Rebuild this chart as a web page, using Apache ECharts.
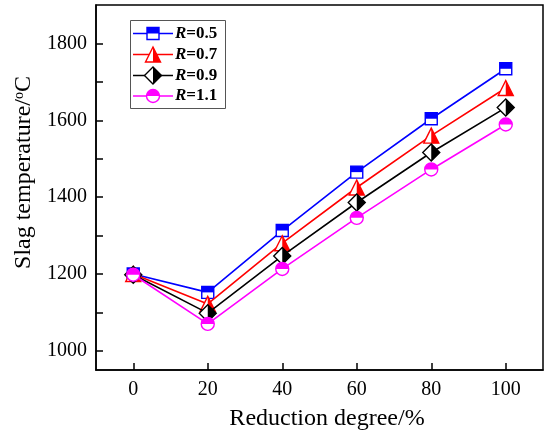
<!DOCTYPE html>
<html>
<head>
<meta charset="utf-8">
<script src="https://cdn.jsdelivr.net/npm/echarts@6/dist/echarts.min.js"></script>
<style>
  html, body { margin: 0; padding: 0; background: #fff; }
  #chart { width: 547px; height: 436px; }
</style>
</head>
<body>
<div id="chart"></div>
<script>
// Reduction degree (%) on the x axis
const reductionDegree = [0, 20, 40, 60, 80, 100];

// Slag temperature (°C) for each R value
const tempR05 = [1200, 1152, 1313, 1465, 1604, 1734];
const tempR07 = [1200, 1122, 1280, 1425, 1560, 1684];
const tempR09 = [1198, 1098, 1247, 1386, 1516, 1633];
const tempR11 = [1198, 1070, 1213, 1346, 1472, 1589];

const seriesNames = ['R=0.5', 'R=0.7', 'R=0.9', 'R=1.1'];

// Axis tick labels
const xTickValues = [0, 20, 40, 60, 80, 100];
const yLabelValues = [1000, 1200, 1400, 1600, 1800];
const yTickValues = [1000, 1100, 1200, 1300, 1400, 1500, 1600, 1700, 1800];

const FONT = '"Liberation Serif", "Times New Roman", serif';

// Marker styles: full outline + filled half
const markers = [
  { color: '#0000ff', symbol: 'rect', size: 12,
    half: 'path://M0,0L2,0L2,1L0,1Z', halfSize: [12, 6], halfOffset: [0, -3] },
  { color: '#ff0000', symbol: 'triangle', size: 15,
    half: 'path://M0,0L1,2L0,2Z', halfSize: [7.5, 15], halfOffset: [3.75, 0] },
  { color: '#000000', symbol: 'diamond', size: 17,
    half: 'path://M0,0L1,1L0,2Z', halfSize: [8.5, 17], halfOffset: [4.25, 0] },
  { color: '#ff00ff', symbol: 'circle', size: 13,
    half: 'path://M0,1A1,1 0 0 1 2,1Z', halfSize: [13, 6.5], halfOffset: [0, -3.25] }
];

const allTemps = [tempR05, tempR07, tempR09, tempR11];

const series = [];
allTemps.forEach((temps, i) => {
  const m = markers[i];
  const pts = reductionDegree.map((x, k) => [x, temps[k]]);
  series.push({
    name: seriesNames[i],
    type: 'line',
    z: 2 + i * 2,
    data: pts,
    symbol: m.symbol,
    symbolSize: m.size,
    lineStyle: { color: m.color, width: 1.6 },
    itemStyle: { color: '#ffffff', borderColor: m.color, borderWidth: 1.4 },
    emphasis: { disabled: true },
    animation: false
  });
  series.push({
    name: seriesNames[i] + ' fill',
    type: 'scatter',
    z: 3 + i * 2,
    data: pts,
    symbol: m.half,
    symbolSize: m.halfSize,
    symbolOffset: m.halfOffset,
    symbolKeepAspect: false,
    itemStyle: { color: m.color, opacity: 1 },
    emphasis: { disabled: true },
    animation: false,
    silent: true
  });
});

// Legend drawn as graphic elements (line + half-filled marker + label)
const legendGraphics = [{
  type: 'rect',
  shape: { x: 130.5, y: 20.5, width: 95, height: 88 },
  style: { fill: '#fff', stroke: '#555', lineWidth: 1 },
  z: 100
}];
const legendRows = [33.5, 54.5, 75.5, 96];
const lx0 = 133, lx1 = 173, mx = 153;
legendRows.forEach((y, i) => {
  const m = markers[i];
  const c = m.color;
  legendGraphics.push({ type: 'line', shape: { x1: lx0, y1: y, x2: lx1, y2: y },
    style: { stroke: c, lineWidth: 1.6 }, z: 101 });
  const s = m.size / 2;
  if (i === 0) {
    legendGraphics.push({ type: 'rect', shape: { x: mx - s, y: y - s, width: m.size, height: m.size },
      style: { fill: '#fff', stroke: c, lineWidth: 1.4 }, z: 102 });
    legendGraphics.push({ type: 'rect', shape: { x: mx - s, y: y - s, width: m.size, height: s },
      style: { fill: c }, z: 103 });
  } else if (i === 1) {
    legendGraphics.push({ type: 'polygon', shape: { points: [[mx, y - s], [mx + s, y + s], [mx - s, y + s]] },
      style: { fill: '#fff', stroke: c, lineWidth: 1.4 }, z: 102 });
    legendGraphics.push({ type: 'polygon', shape: { points: [[mx, y - s], [mx + s, y + s], [mx, y + s]] },
      style: { fill: c }, z: 103 });
  } else if (i === 2) {
    legendGraphics.push({ type: 'polygon', shape: { points: [[mx, y - s], [mx + s, y], [mx, y + s], [mx - s, y]] },
      style: { fill: '#fff', stroke: c, lineWidth: 1.4 }, z: 102 });
    legendGraphics.push({ type: 'polygon', shape: { points: [[mx, y - s], [mx + s, y], [mx, y + s]] },
      style: { fill: c }, z: 103 });
  } else {
    legendGraphics.push({ type: 'circle', shape: { cx: mx, cy: y, r: s },
      style: { fill: '#fff', stroke: c, lineWidth: 1.4 }, z: 102 });
    legendGraphics.push({ type: 'sector', shape: { cx: mx, cy: y, r: s, r0: 0, startAngle: Math.PI, endAngle: 2 * Math.PI },
      style: { fill: c }, z: 103 });
  }
  const label = seriesNames[i].replace('R', '');
  legendGraphics.push({
    type: 'text', x: 175, y: y, z: 103,
    style: {
      text: '{i|R}' + label,
      font: 'bold 17px ' + FONT,
      fill: '#000',
      verticalAlign: 'middle',
      rich: { i: { fontStyle: 'italic', fontWeight: 'bold', fontSize: 17, fontFamily: FONT, fill: '#000' } }
    }
  });
});

const plain = v => String(v);

const chart = echarts.init(document.getElementById('chart'), null, { renderer: 'canvas' });
chart.setOption({
  animation: false,
  backgroundColor: '#fff',
  grid: {
    left: 96, top: 5, right: 4, bottom: 65,
    show: true, borderColor: '#000', borderWidth: 1.5, backgroundColor: 'transparent'
  },
  xAxis: {
    type: 'value',
    min: -10, max: 110,
    name: 'Reduction degree/%',
    nameLocation: 'middle',
    nameGap: 37,
    nameTextStyle: { fontFamily: FONT, fontSize: 24, color: '#000', padding: [0, 0, 0, 15] },
    axisLine: { show: true, onZero: false, lineStyle: { color: '#000', width: 1.5 } },
    axisTick: { show: true, inside: true, length: 7, lineStyle: { color: '#000', width: 1.5 },
      customValues: xTickValues },
    axisLabel: { fontFamily: FONT, fontSize: 20, color: '#000', margin: 10,
      customValues: xTickValues, formatter: plain },
    splitLine: { show: false }
  },
  yAxis: {
    type: 'value',
    min: 950, max: 1900,
    name: 'Slag temperature/{sup|o}C',
    nameLocation: 'middle',
    nameGap: 60,
    nameRotate: 90,
    nameTextStyle: {
      fontFamily: FONT, fontSize: 24, color: '#000', padding: [0, 0, 0, 30],
      rich: { sup: { fontFamily: FONT, fontSize: 14, color: '#000', verticalAlign: 'top', lineHeight: 14 } }
    },
    axisLine: { show: true, onZero: false, lineStyle: { color: '#000', width: 1.5 } },
    axisTick: { show: true, inside: true, length: 7, lineStyle: { color: '#000', width: 1.5 },
      customValues: yTickValues },
    axisLabel: { fontFamily: FONT, fontSize: 20, color: '#000', margin: 9,
      customValues: yLabelValues, formatter: plain },
    splitLine: { show: false }
  },
  series: series,
  graphic: legendGraphics
});
</script>
</body>
</html>
